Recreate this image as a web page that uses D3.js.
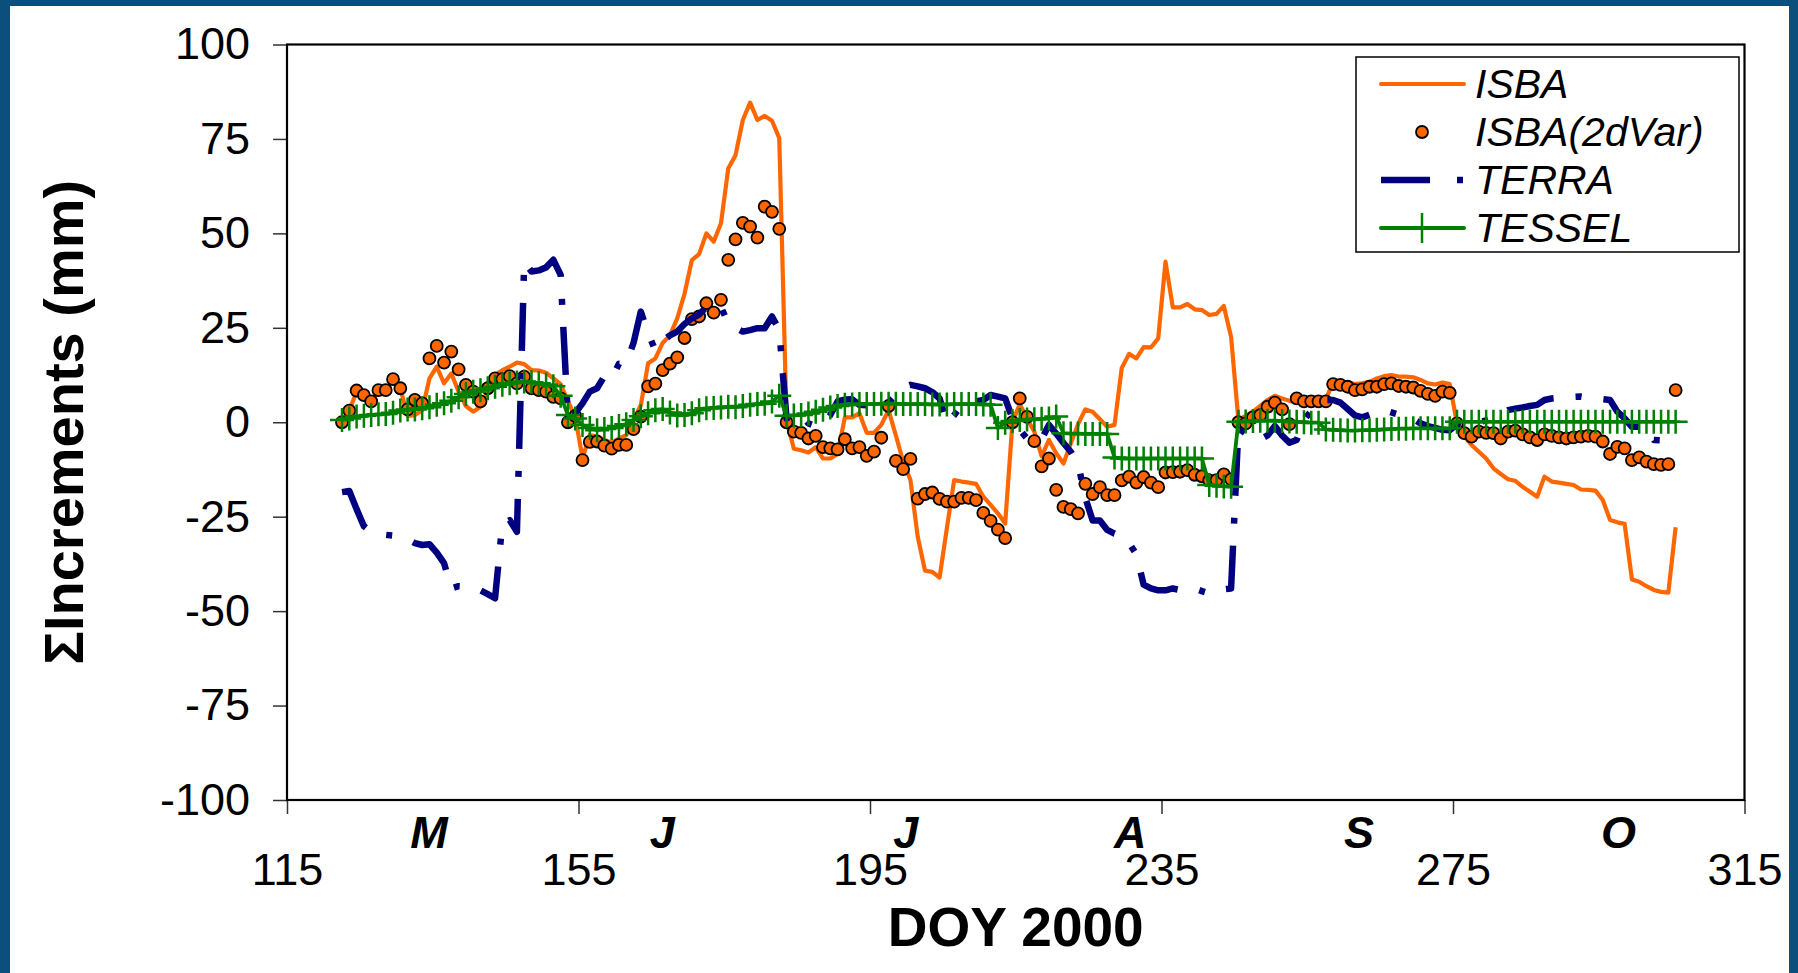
<!DOCTYPE html>
<html><head><meta charset="utf-8">
<script src="https://cdn.jsdelivr.net/npm/d3@7"></script>
<style>html,body{margin:0;padding:0;background:#0b4f7d;overflow:hidden}</style>
</head><body><svg id="c" width="1798" height="973"></svg>
<script>
// ---- categories: day of year 2000 (daily values, May 1 = DOY 122) ----
const DOY = [122,123,124,125,126,127,128,129,130,131,132,133,134,135,136,137,138,139,140,141,142,143,144,145,146,147,148,149,150,151,152,
153,154,155,156,157,158,159,160,161,162,163,164,165,166,167,168,169,170,171,172,173,174,175,176,177,178,179,180,181,182,
183,184,185,186,187,188,189,190,191,192,193,194,195,196,197,198,199,200,201,202,203,204,205,206,207,208,209,210,211,212,213,
214,215,216,217,218,219,220,221,222,223,224,225,226,227,228,229,230,231,232,233,234,235,236,237,238,239,240,241,242,243,244,
245,246,247,248,249,250,251,252,253,254,255,256,257,258,259,260,261,262,263,264,265,266,267,268,269,270,271,272,273,274,
275,276,277,278,279,280,281,282,283,284,285,286,287,288,289,290,291,292,293,294,295,296,297,298,299,300,301,302,303,304,305];

// ---- series values (mm) ----
const isba = [0.2,3.2,8.1,7.0,5.5,8.1,8.5,11.2,9.0,1.7,1.9,3.2,11.6,14.7,10.3,12.9,8.1,4.3,2.8,4.1,8.5,12.5,13.8,14.7,15.8,15.4,13.8,13.7,13.1,11.6,10.1,
5.5,1.4,-9.5,-3.4,-3.8,-4.7,-5.4,-4.3,-3.4,0.6,4.5,15.6,16.9,21.0,23.0,27.5,34.0,42.9,44.5,50.0,47.8,52.7,67.2,70.7,80.0,84.6,80.0,81.1,79.8,75.2,
0.5,-7.0,-7.4,-8.0,-6.6,-9.6,-9.6,-8.4,1.3,1.3,2.4,-2.8,-2.8,-0.7,3.2,-3.5,-10.4,-15.3,-30.3,-39.3,-39.6,-41.1,-28.0,-15.3,-15.7,-16.0,-16.3,-19.7,-21.9,-24.1,-26.8,
0.0,4.8,1.0,-2.5,-9.0,-4.7,-8.2,-10.9,-5.6,-0.5,3.4,2.8,0.8,-1.2,-0.7,14.4,18.1,16.9,19.9,19.8,22.2,42.5,30.4,30.4,31.3,29.9,29.7,28.4,28.7,30.8,22.6,
0.6,1.7,2.8,4.3,5.9,7.0,6.3,5.7,5.2,5.2,5.5,5.5,6.1,10.5,10.7,10.5,10.1,10.3,10.7,11.6,12.2,12.5,12.1,12.1,11.9,11.2,10.3,10.0,10.5,10.1,
-0.3,-3.8,-6.0,-7.8,-9.6,-12.2,-13.7,-15.1,-15.5,-17.1,-18.4,-19.7,-14.4,-15.7,-16.0,-16.3,-16.6,-17.8,-17.9,-18.1,-20.6,-25.9,-26.5,-26.9,-41.6,-42.2,-43.4,-44.4,-44.9,-45.1,-27.8];

const isba2dVar = [0.0,3.1,8.4,7.2,5.5,8.5,8.5,11.4,9.0,3.4,5.9,5.0,16.9,20.2,15.8,18.7,14.0,9.9,8.1,5.5,9.0,11.6,11.4,12.2,10.3,12.1,9.0,8.5,8.1,6.7,6.3,
0.0,1.7,-10.0,-5.2,-5.1,-6.2,-7.0,-6.0,-6.0,-1.8,1.5,9.5,10.2,13.8,15.5,17.2,22.3,27.3,28.0,31.5,29.0,32.4,43.0,48.4,52.8,51.8,48.9,57.1,55.7,51.2,
0.0,-2.5,-2.8,-4.3,-3.6,-6.6,-6.9,-7.2,-4.5,-6.9,-6.6,-8.9,-7.8,-4.1,4.3,-10.2,-12.4,-9.7,-20.2,-19.0,-18.6,-20.3,-21.0,-21.0,-20.0,-20.0,-20.6,-24.0,-26.1,-28.4,-30.7,
0.0,6.3,1.4,-5.0,-11.7,-9.6,-17.9,-22.4,-23.0,-24.1,-16.3,-19.0,-17.2,-19.3,-19.3,-15.4,-14.4,-16.0,-14.5,-16.0,-17.2,-13.3,-13.2,-13.1,-12.7,-13.9,-14.3,-15.4,-15.3,-13.8,-15.1,
0.0,-0.3,1.3,1.9,4.1,5.2,3.4,-0.5,6.3,5.5,5.5,5.5,5.5,10.1,9.9,9.4,8.5,8.7,9.4,9.4,10.1,10.3,9.6,9.4,9.2,8.3,7.5,7.0,8.1,7.8,
-0.3,-2.9,-3.8,-2.5,-2.8,-2.9,-4.3,-2.5,-2.2,-3.2,-4.0,-4.7,-3.2,-3.6,-4.0,-4.3,-4.0,-3.8,-3.6,-3.8,-5.1,-8.4,-6.5,-6.9,-10.0,-9.3,-10.4,-11.1,-11.3,-11.1,8.5];

const terra = [-18.5,-18.2,-23.0,-27.5,-29.0,-29.5,-29.8,-30.0,-30.3,-31.0,-32.0,-32.5,-32.3,-34.5,-37.3,-44.0,-43.4,-43.5,-43.7,-44.5,-45.5,-46.6,-26.8,-25.9,-29.0,42.5,39.9,40.2,41.0,43.0,39.0,
1.0,2.4,5.0,8.1,9.0,12.2,11.5,15.5,15.5,21.0,29.3,23.5,19.0,21.5,23.0,24.0,26.0,27.5,28.5,30.5,31.5,30.5,26.2,25.0,24.0,24.4,24.9,24.9,28.0,24.4,
1.0,2.2,1.9,-0.3,-1.0,-0.5,1.9,5.5,6.0,6.1,4.6,4.5,4.8,5.0,5.2,7.2,9.2,9.9,9.5,9.0,8.0,6.3,-0.3,1.9,4.5,5.0,5.5,5.9,7.2,6.8,6.3,
1.0,-2.0,-4.3,-5.1,-4.5,-0.7,-3.0,-5.5,-7.8,-10.9,-20.0,-26.0,-26.0,-28.5,-29.5,-30.0,-32.0,-35.0,-43.0,-44.0,-44.5,-44.5,-44.0,-44.4,-44.2,-44.0,-44.7,-45.3,-44.4,-44.2,-44.0,
-1.5,-3.0,-4.3,-4.5,-3.5,-1.0,-3.5,-5.4,-4.7,0.6,3.0,4.5,5.9,5.9,5.2,3.5,1.8,1.3,2.0,2.8,3.2,2.6,2.0,1.5,0.9,-0.3,-1.0,-1.5,-2.0,-2.1,
-0.5,-0.8,-0.5,0.0,0.5,1.0,2.0,3.2,3.6,3.9,4.3,4.6,5.9,6.3,6.5,6.6,6.7,6.8,6.5,6.3,6.1,5.9,2.8,1.0,-1.2,-1.2,-1.6,-4.7,-4.8,-4.9];

const tessel = [0.6,1.0,1.5,1.7,1.9,2.1,2.2,2.5,3.1,3.4,3.4,3.7,4.0,4.6,5.0,5.7,6.6,7.5,8.1,8.5,9.0,9.4,9.9,10.3,10.5,10.8,10.6,10.3,10.0,9.5,7.0,
1.9,1.0,-0.7,-1.5,-2.1,-1.8,-1.5,-1.0,-0.5,0.6,1.6,2.4,3.2,3.5,2.6,1.8,1.9,2.4,3.2,3.7,3.8,3.9,4.1,4.0,4.3,4.6,4.8,4.9,5.5,7.0,
1.7,1.8,1.9,2.3,2.8,3.3,3.9,4.3,4.6,4.7,4.8,4.8,4.8,4.9,4.9,4.9,4.8,4.8,4.8,4.8,4.7,4.7,4.7,4.8,4.8,4.8,4.8,4.7,4.6,-1.5,-0.1,
0.3,0.6,0.7,0.8,0.9,1.0,1.5,-2.9,-3.0,-3.0,-3.1,-3.1,-3.1,-3.1,-9.3,-9.6,-9.6,-9.6,-9.6,-9.6,-9.6,-9.6,-9.6,-9.6,-9.6,-9.6,-9.6,-16.6,-16.8,-17.0,-17.1,
0.1,0.2,0.3,0.4,0.4,0.4,0.3,0.2,0.1,0.0,-0.1,-0.1,-1.9,-2.0,-2.1,-2.2,-2.2,-2.1,-2.1,-2.0,-1.9,-1.8,-1.7,-1.7,-1.6,-1.6,-1.6,-1.6,-1.6,-1.6,
0.1,0.1,0.1,0.1,0.1,0.1,0.1,0.1,0.1,0.1,0.1,0.1,0.1,0.1,0.1,0.1,0.1,0.1,0.1,0.1,0.1,0.1,0.1,0.1,0.1,0.1,0.1,0.1,0.1,0.1,0.1];

// ---- tick labels ----
const yTicks = [-100,-75,-50,-25,0,25,50,75,100];
const xTicks = [115,155,195,235,275,315];
const monthNames = ["M","J","J","A","S","O"];
const monthPos = [134.5,166.5,199.9,230.7,262.1,297.7];
const seriesNames = ["ISBA","ISBA(2dVar)","TERRA","TESSEL"];

// ---- drawing ----
const W = 1798, H = 973;
const FONT = "'Liberation Sans', Arial, Helvetica, sans-serif";
const C_ISBA = "#FF6600", C_TERRA = "#000080", C_TESSEL = "#008000";
const svg = d3.select("#c");
svg.append("rect").attr("width", W).attr("height", H).attr("fill", "#0b4f7d");
svg.append("rect").attr("x", 10).attr("y", 6).attr("width", 1779).attr("height", H - 6).attr("fill", "#fff");

const L = 287, R = 1744.5, T = 44.5, B = 800;
const x = d3.scaleLinear().domain([115, 315]).range([L, R]);
const y = d3.scaleLinear().domain([-100, 100]).range([B, T]);
const xd = d => x(d + 0.55); // daily values plotted mid-day

// axes
const gy = svg.append("g").attr("transform", `translate(${L},0)`)
  .call(d3.axisLeft(y).tickValues(yTicks).tickSize(14).tickPadding(23).tickFormat(d => String(d)));
gy.select(".domain").remove();
gy.selectAll(".tick line").attr("stroke", "#333").attr("stroke-width", 1.5);
gy.selectAll(".tick text").attr("font-size", 45).attr("font-family", FONT).attr("fill", "#000");

const gx = svg.append("g").attr("transform", `translate(0,${B})`)
  .call(d3.axisBottom(x).tickValues(xTicks).tickSize(14).tickPadding(39).tickFormat(d => String(d)));
gx.select(".domain").remove();
gx.selectAll(".tick line").attr("stroke", "#333").attr("stroke-width", 1.5);
gx.selectAll(".tick text").attr("font-size", 45).attr("font-family", FONT).attr("fill", "#000");

// frame
svg.append("rect").attr("x", L).attr("y", T).attr("width", R - L).attr("height", B - T)
  .attr("fill", "none").attr("stroke", "#000").attr("stroke-width", 2.2);

const line = d3.line().x(d => xd(d[0])).y(d => y(d[1]));
const pairs = arr => arr.map((v, i) => [DOY[i], v]);

// ISBA
svg.append("path").datum(pairs(isba)).attr("d", line)
  .attr("fill", "none").attr("stroke", C_ISBA).attr("stroke-width", 4.2).attr("stroke-linejoin", "round");

// ISBA(2dVar) dots
svg.append("g").selectAll("circle").data(pairs(isba2dVar)).join("circle")
  .attr("cx", d => xd(d[0])).attr("cy", d => y(d[1])).attr("r", 6)
  .attr("fill", C_ISBA).attr("stroke", "#000").attr("stroke-width", 1.8);

// TERRA
svg.append("path").datum(pairs(terra)).attr("d", line)
  .attr("fill", "none").attr("stroke", C_TERRA).attr("stroke-width", 6.5)
  .attr("stroke-dasharray", "48,22,6,22").attr("stroke-linejoin", "round");

// TESSEL
svg.append("path").datum(pairs(tessel)).attr("d", line)
  .attr("fill", "none").attr("stroke", C_TESSEL).attr("stroke-width", 3.8).attr("stroke-linejoin", "round");
svg.append("g").selectAll("path").data(pairs(tessel)).join("path")
  .attr("transform", d => `translate(${xd(d[0])},${y(d[1])})`)
  .attr("d", "M-12,0H12M0,-12V12")
  .attr("stroke", C_TESSEL).attr("stroke-width", 2.5).attr("fill", "none");

// month labels
svg.append("g").selectAll("text").data(monthNames).join("text")
  .attr("x", (d, i) => x(monthPos[i])).attr("y", 848)
  .attr("text-anchor", "middle").attr("font-family", FONT).attr("font-size", 45)
  .attr("font-weight", "bold").attr("font-style", "italic").text(d => d);

// axis titles
svg.append("text").attr("x", (L + R) / 2).attr("y", 946).attr("text-anchor", "middle")
  .attr("font-family", FONT).attr("font-size", 55).attr("font-weight", "bold").text("DOY 2000");
svg.append("text").attr("transform", `translate(83,${(T + B) / 2}) rotate(-90)`).attr("text-anchor", "middle")
  .attr("font-family", FONT).attr("font-size", 56).attr("font-weight", "bold").text("ΣIncrements (mm)");

// legend
const lg = svg.append("g");
lg.append("rect").attr("x", 1356).attr("y", 57).attr("width", 383).attr("height", 195)
  .attr("fill", "#fff").attr("stroke", "#000").attr("stroke-width", 1.5);
const rowY = i => 84 + i * 48;
const sx0 = 1381, sx1 = 1464, sxm = 1422;
lg.append("line").attr("x1", sx0).attr("x2", sx1).attr("y1", rowY(0)).attr("y2", rowY(0))
  .attr("stroke", C_ISBA).attr("stroke-width", 4).attr("stroke-linecap", "round");
lg.append("circle").attr("cx", sxm).attr("cy", rowY(1)).attr("r", 6)
  .attr("fill", C_ISBA).attr("stroke", "#000").attr("stroke-width", 1.8);
lg.append("line").attr("x1", sx0).attr("x2", sx1).attr("y1", rowY(2)).attr("y2", rowY(2))
  .attr("stroke", C_TERRA).attr("stroke-width", 6.5).attr("stroke-dasharray", "49,27,6,27");
lg.append("line").attr("x1", sx0).attr("x2", sx1).attr("y1", rowY(3)).attr("y2", rowY(3))
  .attr("stroke", C_TESSEL).attr("stroke-width", 4).attr("stroke-linecap", "round");
lg.append("line").attr("x1", sxm).attr("x2", sxm).attr("y1", rowY(3) - 15).attr("y2", rowY(3) + 15)
  .attr("stroke", C_TESSEL).attr("stroke-width", 2.5);
lg.selectAll("text.lt").data(seriesNames).join("text").attr("class", "lt")
  .attr("x", 1475).attr("y", (d, i) => rowY(i) + 14)
  .attr("font-family", FONT).attr("font-size", 41).attr("font-style", "italic").text(d => d);
</script></body></html>
